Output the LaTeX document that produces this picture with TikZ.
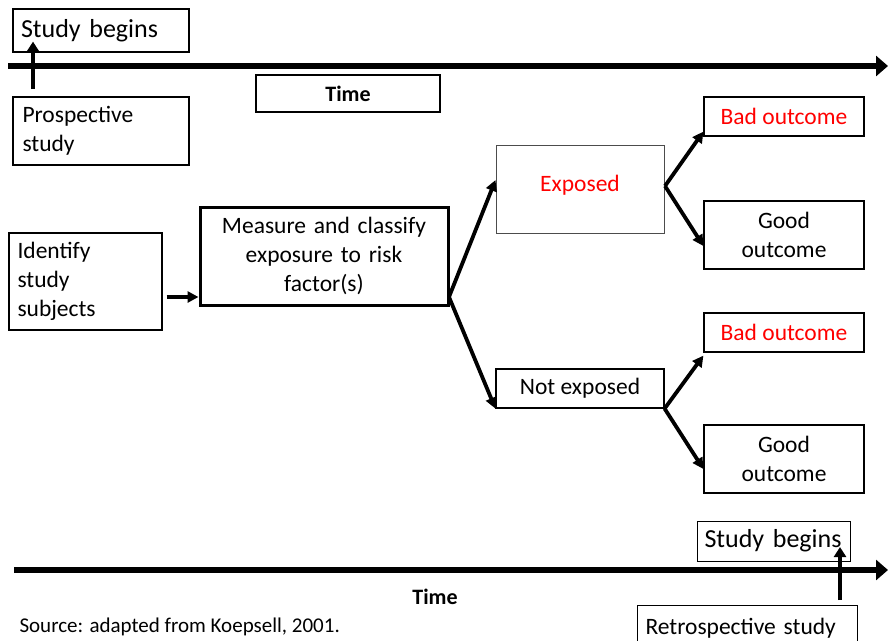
\documentclass[tikz,border=0pt]{standalone}
\usepackage{fontspec}
\setmainfont{Carlito}
\usetikzlibrary{arrows.meta,calc}
\definecolor{redtxt}{RGB}{255,0,0}
\begin{document}
\begin{tikzpicture}[x=1pt,y=-1pt,
  box/.style={draw=black,line width=1.2pt,rectangle,inner sep=0pt,font=\fontsize{23.5}{29}\selectfont},
  timeline/.style={line width=6pt,-{Triangle[length=12pt,width=20pt]}},
  uparrow/.style={line width=3.5pt,-{Triangle[length=10pt,width=12pt]}},
  branch/.style={line width=3.8pt,-{Triangle[length=11pt,width=11pt]}}
]
\useasboundingbox (0,0) rectangle (888,640);
% top timeline
\coordinate (t1a) at (8,66);
\coordinate (t1b) at (888,66);
\draw[timeline] (t1a) -- (t1b);
\node[box,minimum width=176pt,minimum height=43pt,text width=160pt,align=left,font=\fontsize{26}{30}\selectfont] (SB1) at (101,30.5) {\raisebox{-3pt}{Study begins}};
\node[box,minimum width=176pt,minimum height=68pt,text width=157pt,align=left] (PS) at (101,131) {Prospective\\study};
\coordinate (pa) at (33,89);
\draw[uparrow] (pa) -- (SB1.south west -| pa) -- ++(0,-11);
\node[box,minimum width=184pt,minimum height=37pt,font=\fontsize{22}{26}\selectfont\bfseries] (T1) at (348,93.5) {Time};
% main flow
\node[box,minimum width=153pt,minimum height=97pt,text width=136pt,align=left] (ID) at (85.5,281.5) {Identify\\study\\subjects};
\node[box,line width=3pt,minimum width=248pt,minimum height=98pt,text width=230pt,align=center] (M) at (324,256) {Measure and classify\\exposure to risk\\factor(s)};
\draw[branch] ($(ID.east)+(4,15.5)$) -- ($(M.west)+(0,41)$);
\node[box,draw=black!70,line width=1pt,minimum width=168pt,minimum height=88pt,text=redtxt] (E) at (580,189) {\raisebox{11pt}{Exposed}};
\node[box,minimum width=168pt,minimum height=39pt] (N) at (580,388.5) {Not exposed};
\coordinate (mb) at (449,297);
\draw[branch] (mb) -- ($(E.west)+(0,-9)$);
\draw[branch] (mb) -- (N.south west);
\node[box,minimum width=160pt,minimum height=39pt,text=redtxt] (B1) at (784,116.5) {Bad outcome};
\node[box,minimum width=160pt,minimum height=68pt,align=center] (G1) at (784,235) {Good\\outcome};
\node[box,minimum width=160pt,minimum height=39pt,text=redtxt] (B2) at (784,332.5) {Bad outcome};
\node[box,minimum width=160pt,minimum height=68pt,align=center] (G2) at (784,459) {Good\\outcome};
\coordinate (eb) at (665,186);
\draw[branch] (eb) -- ($(B1.south west)+(0,-5)$);
\draw[branch] (eb) -- ($(G1.west)+(0,11)$);
\draw[branch] (N.south east) -- ($(B2.south west)+(0,3)$);
\draw[branch] (N.south east) -- ($(G2.west)+(0,10)$);
% bottom timeline
\coordinate (t2a) at (14,570);
\coordinate (t2b) at (888,570);
\draw[timeline] (t2a) -- (t2b);
\node[box,line width=1pt,minimum width=153pt,minimum height=40pt,text width=138pt,align=left,font=\fontsize{26}{30}\selectfont] (SB2) at (773.5,541) {Study begins};
\node[box,line width=1pt,minimum width=220pt,minimum height=50pt,text width=204pt,align=left,anchor=north west] (RS) at (637,605) {\raisebox{9pt}{Retrospective study}};
\coordinate (ra) at (840,600);
\draw[uparrow] (ra) -- ++(0,-53);
\node[font=\fontsize{22}{26}\selectfont\bfseries] (T2) at (435,597) {Time};
\node[font=\fontsize{21}{24}\selectfont,anchor=west] (src) at (16,627) {Source: adapted from Koepsell, 2001.};
\end{tikzpicture}
\end{document}
